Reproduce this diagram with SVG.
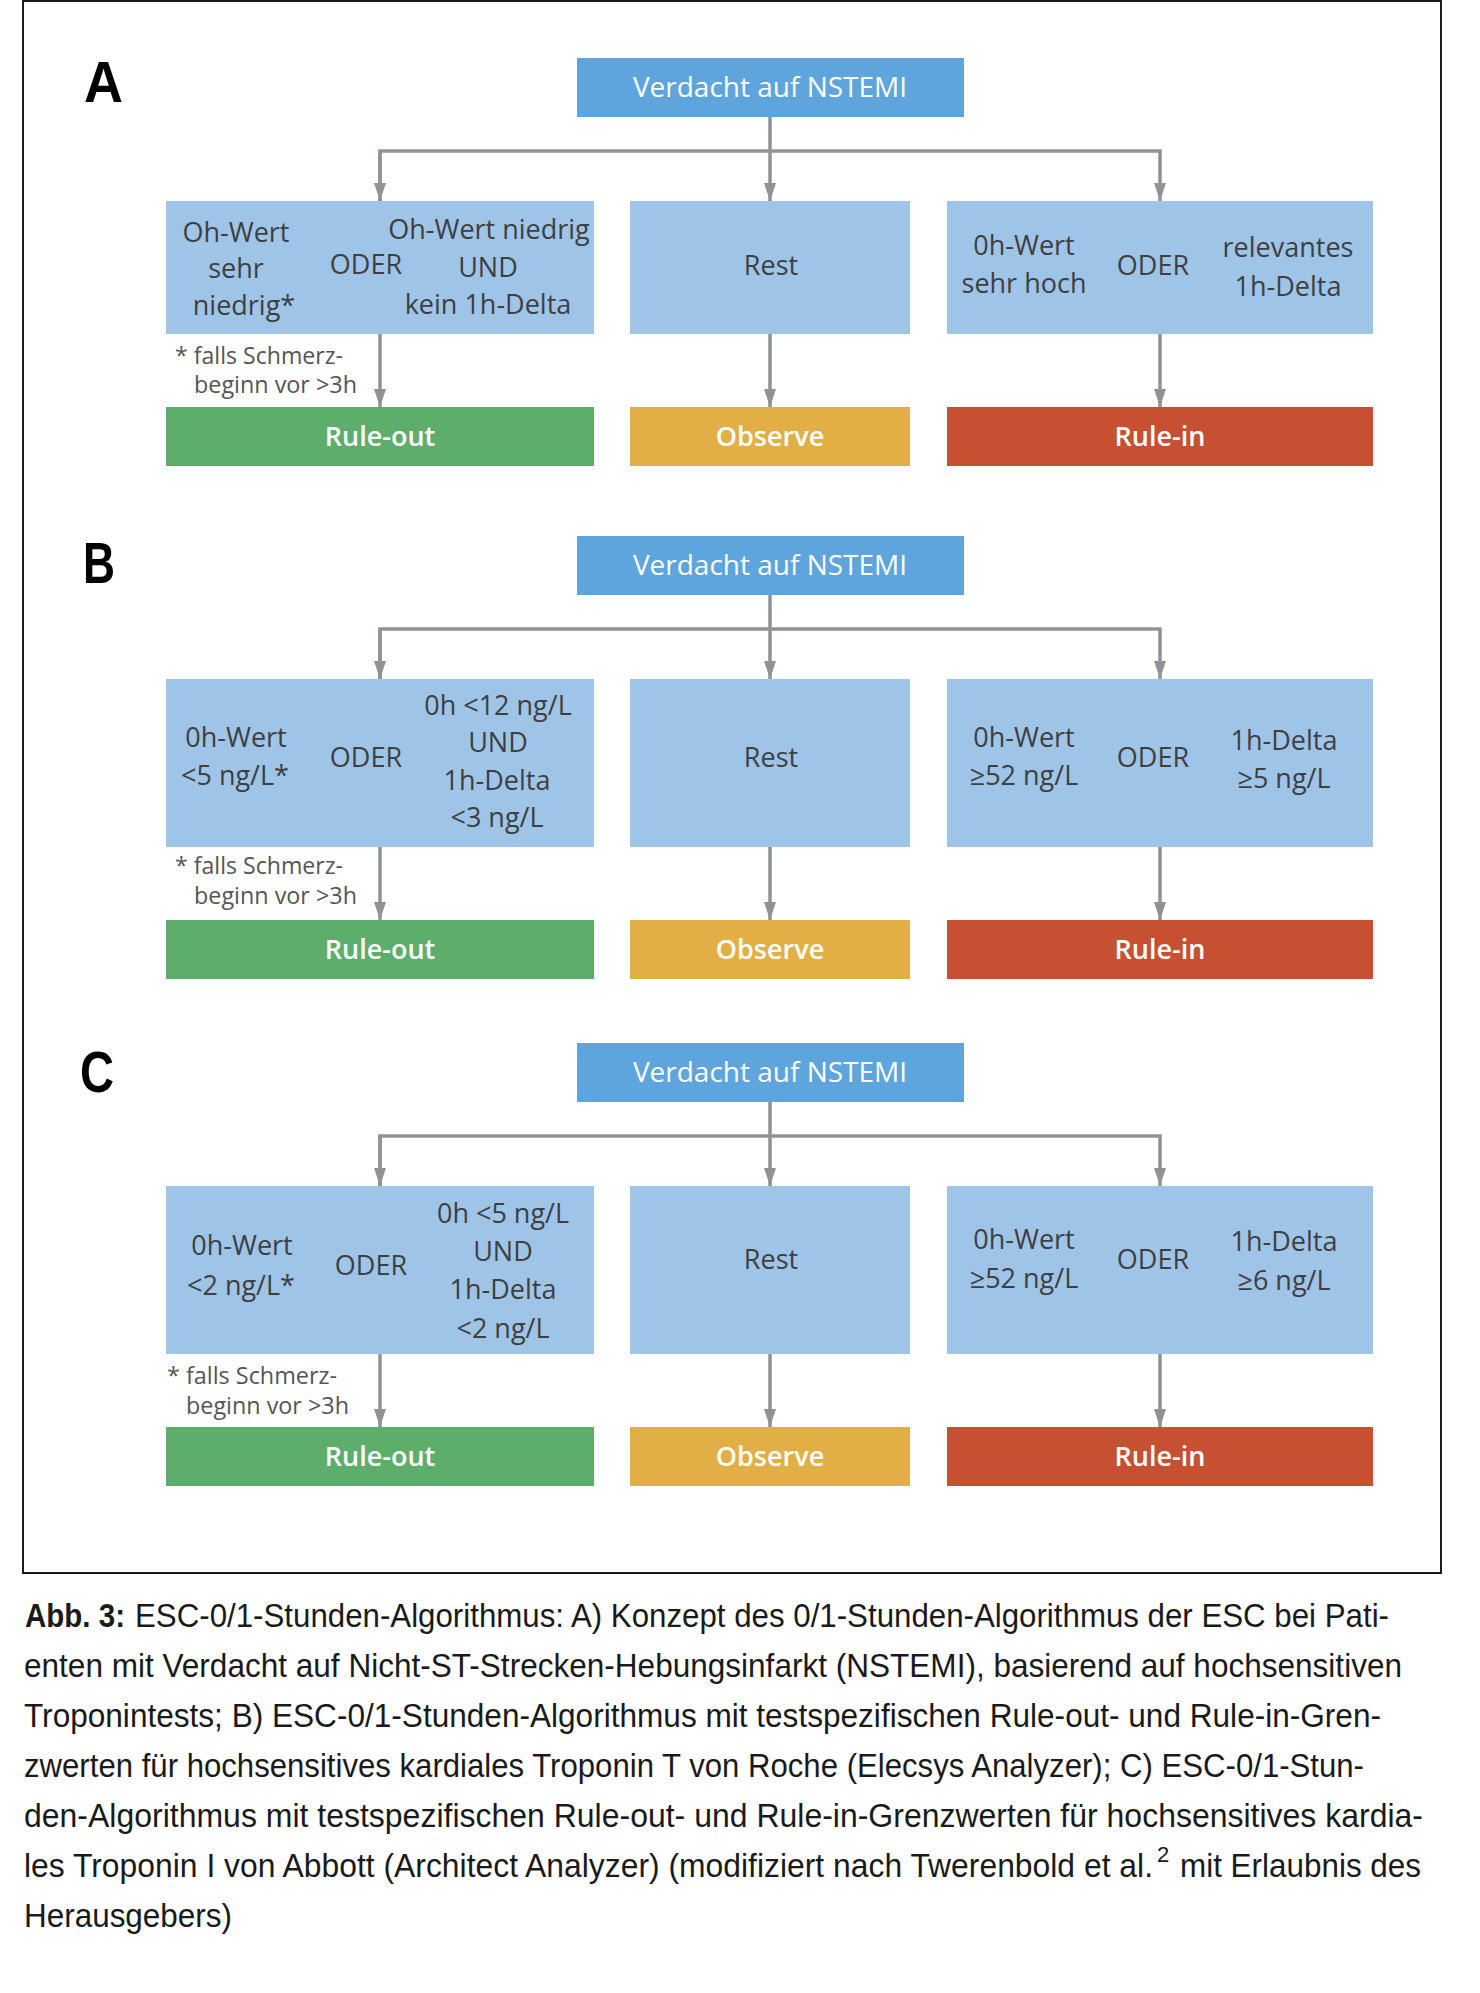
<svg xmlns="http://www.w3.org/2000/svg" width="1480" height="1993" viewBox="0 0 1480 1993">
<defs>
<style>
.frame{fill:none;stroke:#1a1a1a;stroke-width:2}
.hdr{fill:#5da5dc}
.cond{fill:#9ec4e8}
.out{fill:#5eae6b}
.obs{fill:#e1af46}
.rin{fill:#c85032}
.conn{fill:none;stroke:#909296;stroke-width:3.5}
.t{font-family:"Open Sans","Liberation Sans",sans-serif;font-size:27px;fill:#3f3f3f;text-anchor:middle}
.w{font-family:"Open Sans","Liberation Sans",sans-serif;font-size:28px;fill:#ffffff;text-anchor:middle}
.wb{font-family:"Open Sans","Liberation Sans",sans-serif;font-size:27px;font-weight:600;fill:#ffffff;text-anchor:middle}
.fn{font-family:"Open Sans","Liberation Sans",sans-serif;font-size:24px;fill:#555555}
.lbl{font-family:"Liberation Sans","Open Sans",sans-serif;font-size:58px;font-weight:bold;fill:#000000}
.cap{font-family:"Liberation Sans","Open Sans",sans-serif;font-size:33px;fill:#1a1a1a}
.capb{font-family:"Liberation Sans","Open Sans",sans-serif;font-size:33px;font-weight:bold;fill:#1a1a1a}
</style>
<marker id="ah" markerUnits="userSpaceOnUse" markerWidth="18" markerHeight="12" refX="18" refY="6" orient="auto" viewBox="0 0 18 12">
<path d="M0,0 L18,6 L0,12 z" fill="#909296"/>
</marker>
</defs>
<rect x="0" y="0" width="1480" height="1993" fill="#ffffff"/>
<rect class="frame" x="23" y="1" width="1418" height="1572"/>

<g id="connectors">
<!-- Panel A -->
<path class="conn" d="M770,117 V201" marker-end="url(#ah)"/>
<path class="conn" d="M380,201 V151 H1160 V201" marker-end="url(#ah)"/>
<path class="conn" d="M380,151 V201" marker-end="url(#ah)"/>
<path class="conn" d="M380,334 V407" marker-end="url(#ah)"/>
<path class="conn" d="M770,334 V407" marker-end="url(#ah)"/>
<path class="conn" d="M1160,334 V407" marker-end="url(#ah)"/>
<!-- Panel B -->
<path class="conn" d="M770,595 V679" marker-end="url(#ah)"/>
<path class="conn" d="M380,679 V629 H1160 V679" marker-end="url(#ah)"/>
<path class="conn" d="M380,629 V679" marker-end="url(#ah)"/>
<path class="conn" d="M380,847 V920" marker-end="url(#ah)"/>
<path class="conn" d="M770,847 V920" marker-end="url(#ah)"/>
<path class="conn" d="M1160,847 V920" marker-end="url(#ah)"/>
<!-- Panel C -->
<path class="conn" d="M770,1102 V1186" marker-end="url(#ah)"/>
<path class="conn" d="M380,1186 V1136 H1160 V1186" marker-end="url(#ah)"/>
<path class="conn" d="M380,1136 V1186" marker-end="url(#ah)"/>
<path class="conn" d="M380,1354 V1427" marker-end="url(#ah)"/>
<path class="conn" d="M770,1354 V1427" marker-end="url(#ah)"/>
<path class="conn" d="M1160,1354 V1427" marker-end="url(#ah)"/>
</g>

<!-- ===== Panel A ===== -->
<text class="lbl" x="84" y="102" textLength="39" lengthAdjust="spacingAndGlyphs">A</text>
<g id="A-start">
<rect class="hdr" x="577" y="58" width="387" height="59"/>
<text class="w" x="770" y="97">Verdacht auf NSTEMI</text>
</g>
<g id="A-ruleout-crit">
<rect class="cond" x="166" y="201" width="428" height="133"/>
<text class="t" x="236" y="242">Oh-Wert</text>
<text class="t" x="236" y="278">sehr</text>
<text class="t" x="244" y="315">niedrig*</text>
<text class="t" x="366" y="274">ODER</text>
<text class="t" x="489" y="239">Oh-Wert niedrig</text>
<text class="t" x="488" y="277">UND</text>
<text class="t" x="488" y="314">kein 1h-Delta</text>
</g>
<g id="A-rest">
<rect class="cond" x="630" y="201" width="280" height="133"/>
<text class="t" x="771" y="275">Rest</text>
</g>
<g id="A-rulein-crit">
<rect class="cond" x="947" y="201" width="426" height="133"/>
<text class="t" x="1024" y="255">0h-Wert</text>
<text class="t" x="1024" y="293">sehr hoch</text>
<text class="t" x="1153" y="275">ODER</text>
<text class="t" x="1288" y="257">relevantes</text>
<text class="t" x="1288" y="296">1h-Delta</text>
</g>
<g id="A-footnote">
<text class="fn" x="175" y="364" textLength="168" lengthAdjust="spacingAndGlyphs">* falls Schmerz-</text>
<text class="fn" x="194" y="393" textLength="163" lengthAdjust="spacingAndGlyphs">beginn vor &gt;3h</text>
</g>
<g id="A-ruleout">
<rect class="out" x="166" y="407" width="428" height="59"/>
<text class="wb" x="380" y="446">Rule-out</text>
</g>
<g id="A-observe">
<rect class="obs" x="630" y="407" width="280" height="59"/>
<text class="wb" x="770" y="446">Observe</text>
</g>
<g id="A-rulein">
<rect class="rin" x="947" y="407" width="426" height="59"/>
<text class="wb" x="1160" y="446">Rule-in</text>
</g>

<!-- ===== Panel B ===== -->
<text class="lbl" x="83" y="583" textLength="32" lengthAdjust="spacingAndGlyphs">B</text>
<g id="B-start">
<rect class="hdr" x="577" y="536" width="387" height="59"/>
<text class="w" x="770" y="575">Verdacht auf NSTEMI</text>
</g>
<g id="B-ruleout-crit">
<rect class="cond" x="166" y="679" width="428" height="168"/>
<text class="t" x="236" y="747">0h-Wert</text>
<text class="t" x="235" y="785">&lt;5 ng/L*</text>
<text class="t" x="366" y="767">ODER</text>
<text class="t" x="498" y="715">0h &lt;12 ng/L</text>
<text class="t" x="498" y="752">UND</text>
<text class="t" x="497" y="790">1h-Delta</text>
<text class="t" x="497" y="827">&lt;3 ng/L</text>
</g>
<g id="B-rest">
<rect class="cond" x="630" y="679" width="280" height="168"/>
<text class="t" x="771" y="767">Rest</text>
</g>
<g id="B-rulein-crit">
<rect class="cond" x="947" y="679" width="426" height="168"/>
<text class="t" x="1024" y="747">0h-Wert</text>
<text class="t" x="1024" y="785">≥52 ng/L</text>
<text class="t" x="1153" y="767">ODER</text>
<text class="t" x="1284" y="750">1h-Delta</text>
<text class="t" x="1284" y="788">≥5 ng/L</text>
</g>
<g id="B-footnote">
<text class="fn" x="175" y="874" textLength="168" lengthAdjust="spacingAndGlyphs">* falls Schmerz-</text>
<text class="fn" x="194" y="904" textLength="163" lengthAdjust="spacingAndGlyphs">beginn vor &gt;3h</text>
</g>
<g id="B-ruleout">
<rect class="out" x="166" y="920" width="428" height="59"/>
<text class="wb" x="380" y="959">Rule-out</text>
</g>
<g id="B-observe">
<rect class="obs" x="630" y="920" width="280" height="59"/>
<text class="wb" x="770" y="959">Observe</text>
</g>
<g id="B-rulein">
<rect class="rin" x="947" y="920" width="426" height="59"/>
<text class="wb" x="1160" y="959">Rule-in</text>
</g>

<!-- ===== Panel C ===== -->
<text class="lbl" x="80" y="1092" textLength="34" lengthAdjust="spacingAndGlyphs">C</text>
<g id="C-start">
<rect class="hdr" x="577" y="1043" width="387" height="59"/>
<text class="w" x="770" y="1082">Verdacht auf NSTEMI</text>
</g>
<g id="C-ruleout-crit">
<rect class="cond" x="166" y="1186" width="428" height="168"/>
<text class="t" x="242" y="1255">0h-Wert</text>
<text class="t" x="241" y="1295">&lt;2 ng/L*</text>
<text class="t" x="371" y="1275">ODER</text>
<text class="t" x="503" y="1223">0h &lt;5 ng/L</text>
<text class="t" x="503" y="1261">UND</text>
<text class="t" x="503" y="1299">1h-Delta</text>
<text class="t" x="503" y="1338">&lt;2 ng/L</text>
</g>
<g id="C-rest">
<rect class="cond" x="630" y="1186" width="280" height="168"/>
<text class="t" x="771" y="1269">Rest</text>
</g>
<g id="C-rulein-crit">
<rect class="cond" x="947" y="1186" width="426" height="168"/>
<text class="t" x="1024" y="1249">0h-Wert</text>
<text class="t" x="1024" y="1288">≥52 ng/L</text>
<text class="t" x="1153" y="1269">ODER</text>
<text class="t" x="1284" y="1251">1h-Delta</text>
<text class="t" x="1284" y="1290">≥6 ng/L</text>
</g>
<g id="C-footnote">
<text class="fn" x="167" y="1384" textLength="170" lengthAdjust="spacingAndGlyphs">* falls Schmerz-</text>
<text class="fn" x="186" y="1414" textLength="163" lengthAdjust="spacingAndGlyphs">beginn vor &gt;3h</text>
</g>
<g id="C-ruleout">
<rect class="out" x="166" y="1427" width="428" height="59"/>
<text class="wb" x="380" y="1466">Rule-out</text>
</g>
<g id="C-observe">
<rect class="obs" x="630" y="1427" width="280" height="59"/>
<text class="wb" x="770" y="1466">Observe</text>
</g>
<g id="C-rulein">
<rect class="rin" x="947" y="1427" width="426" height="59"/>
<text class="wb" x="1160" y="1466">Rule-in</text>
</g>

<!-- ===== Caption ===== -->
<g id="caption">
<text class="capb" x="25" y="1627" textLength="100" lengthAdjust="spacingAndGlyphs">Abb. 3:</text>
<text class="cap" x="135" y="1627" textLength="1254" lengthAdjust="spacingAndGlyphs">ESC-0/1-Stunden-Algorithmus: A) Konzept des 0/1-Stunden-Algorithmus der ESC bei Pati-</text>
<text class="cap" x="24" y="1677" textLength="1378" lengthAdjust="spacingAndGlyphs">enten mit Verdacht auf Nicht-ST-Strecken-Hebungsinfarkt (NSTEMI), basierend auf hochsensitiven</text>
<text class="cap" x="24" y="1727" textLength="1357" lengthAdjust="spacingAndGlyphs">Troponintests; B) ESC-0/1-Stunden-Algorithmus mit testspezifischen Rule-out- und Rule-in-Gren-</text>
<text class="cap" x="24" y="1777" textLength="1340" lengthAdjust="spacingAndGlyphs">zwerten für hochsensitives kardiales Troponin T von Roche (Elecsys Analyzer); C) ESC-0/1-Stun-</text>
<text class="cap" x="24" y="1827" textLength="1399" lengthAdjust="spacingAndGlyphs">den-Algorithmus mit testspezifischen Rule-out- und Rule-in-Grenzwerten für hochsensitives kardia-</text>
<text class="cap" x="24" y="1877" textLength="1129" lengthAdjust="spacingAndGlyphs">les Troponin I von Abbott (Architect Analyzer) (modifiziert nach Twerenbold et al.</text>
<text class="cap" x="1157" y="1862" style="font-size:22px">2</text>
<text class="cap" x="1180" y="1877" textLength="241" lengthAdjust="spacingAndGlyphs">mit Erlaubnis des</text>
<text class="cap" x="24" y="1927" textLength="208" lengthAdjust="spacingAndGlyphs">Herausgebers)</text>
</g>
</svg>
